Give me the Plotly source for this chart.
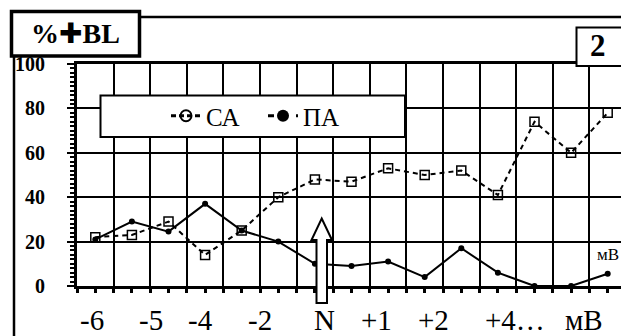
import plotly.graph_objects as go

# ---- data ----
positions = list(range(15))
ca_values = [22, 23, 29, 14, 25, 40, 48, 47, 53, 50, 52, 41, 74, 60, 78]
pa_values = [21, 29, 24.5, 37, 25, 20, 10, 9, 11, 4, 17, 6, 0, 0, 5.5]
x_tick_labels = ["-6", "-5", "-4", "-2", "N", "+1", "+2", "+4…", "мВ"]
x_tick_pos = [-0.08, 1.51, 2.88, 4.49, 6.25, 7.67, 9.25, 11.47, 13.35]
cell_edges = [i - 0.5 for i in range(16)]
y_tick_vals = [0, 20, 40, 60, 80, 100]
series_names = ["СА", "ПА"]

W, H = 621, 336
ML, MR, MT, MB = 77, 0, 64, 50
PW, PH = W - ML - MR, H - MT - MB
CELL = 36.6


def px(x):
    return (x - ML) / PW


def py(y):
    return (H - MB - y) / PH


SERIF = "Liberation Serif"

fig = go.Figure()

fig.add_trace(go.Scatter(
    x=positions, y=ca_values, mode="lines+markers", showlegend=False,
    line=dict(color="black", width=2, dash="5px,4px"),
    marker=dict(symbol="square-open", size=9, color="black",
                line=dict(width=1.5, color="black")),
))
fig.add_trace(go.Scatter(
    x=positions, y=pa_values, mode="lines+markers", showlegend=False,
    line=dict(color="black", width=2),
    marker=dict(symbol="circle", size=6, color="black"),
))
# legend entries
fig.add_trace(go.Scatter(
    x=[None], y=[None], mode="lines+markers", name=series_names[0],
    line=dict(color="black", width=3, dash="5px,3px"),
    marker=dict(symbol="circle-open", size=11, color="black",
                line=dict(width=2, color="black")),
))
fig.add_trace(go.Scatter(
    x=[None], y=[None], mode="lines+markers", name=series_names[1],
    line=dict(color="black", width=3, dash="6px,8px"),
    marker=dict(symbol="circle", size=12, color="black"),
))

shapes = [
    # outer frame
    dict(type="rect", xref="paper", yref="paper", x0=px(14), y0=py(17),
         x1=px(800), y1=py(500), line=dict(color="black", width=2.5),
         fillcolor="rgba(0,0,0,0)", layer="above"),
    # %+BL box
    dict(type="rect", xref="paper", yref="paper", x0=px(11.5), y0=py(11.5),
         x1=px(139.5), y1=py(56), line=dict(color="black", width=3.5),
         fillcolor="white", layer="above"),
    # "2" box
    dict(type="rect", xref="paper", yref="paper", x0=px(576.5), y0=py(27.5),
         x1=px(640), y1=py(66), line=dict(color="black", width=2),
         fillcolor="white", layer="above"),
    # legend box
    dict(type="rect", xref="paper", yref="paper", x0=px(100.5), y0=py(95.5),
         x1=px(405), y1=py(137), line=dict(color="black", width=2),
         fillcolor="white", layer="above"),
]

# arrow (white with black outline)
ax_pts = [(321.7, 218.5), (332, 240), (327, 240), (327, 303), (316.5, 303),
          (316.5, 240), (311.5, 240)]
path = "M " + " L ".join(f"{px(a):.5f},{py(b):.5f}" for a, b in ax_pts) + " Z"
shapes.append(dict(type="path", xref="paper", yref="paper", path=path,
                   line=dict(color="black", width=2), fillcolor="white",
                   layer="above"))

annotations = []
for lab, pos in zip(x_tick_labels, x_tick_pos):
    annotations.append(dict(x=pos, y=py(320), xref="x", yref="paper",
                            text=lab, showarrow=False, xanchor="center",
                            yanchor="middle",
                            font=dict(family=SERIF, size=29, color="black")))
annotations.append(dict(x=px(75), y=py(33), xref="paper", yref="paper",
                        text="<b>%</b><span style='font-family:DejaVu Sans'>✚</span><b>BL</b>",
                        showarrow=False, xanchor="center", yanchor="middle",
                        font=dict(family=SERIF, size=28, color="black")))
annotations.append(dict(x=px(598), y=py(46), xref="paper", yref="paper",
                        text="<b>2</b>", showarrow=False, xanchor="center",
                        yanchor="middle",
                        font=dict(family=SERIF, size=31, color="black")))
annotations.append(dict(x=positions[-1], y=pa_values[-1], xref="x", yref="y",
                        text="мВ", showarrow=False, xanchor="center",
                        yanchor="bottom", yshift=8,
                        font=dict(family=SERIF, size=17, color="black")))

fig.update_layout(
    width=W, height=H,
    margin=dict(l=ML, r=MR, t=MT, b=MB, pad=0),
    paper_bgcolor="white", plot_bgcolor="white",
    shapes=shapes, annotations=annotations,
    showlegend=True,
    legend=dict(orientation="h", x=px(166), y=py(116), xanchor="left",
                yanchor="middle", bgcolor="rgba(0,0,0,0)", borderwidth=0,
                entrywidth=52, entrywidthmode="pixels",
                font=dict(family=SERIF, size=25, color="black")),
    xaxis=dict(range=[-0.5, -0.5 + PW / CELL], tickmode="array",
               tickvals=cell_edges, showticklabels=False,
               showgrid=True, gridcolor="black", gridwidth=2,
               ticks="outside", ticklen=4, tickwidth=3, tickcolor="black",
               minor=dict(tickmode="array", tickvals=positions,
                          ticks="outside", ticklen=4, tickwidth=3,
                          tickcolor="black", showgrid=False),
               showline=True, linecolor="black", linewidth=3, mirror=True,
               zeroline=False, fixedrange=True),
    yaxis=dict(range=[0, 100], tickmode="array", tickvals=y_tick_vals,
               showgrid=True, gridcolor="black", gridwidth=2,
               ticks="outside", ticklen=7, tickwidth=2, tickcolor="black",
               minor=dict(dtick=2, tick0=0, ticks="outside", ticklen=4,
                          tickwidth=1.5, tickcolor="black", showgrid=False),
               showline=True, linecolor="black", linewidth=3,
               zeroline=False, ticklabelstandoff=18,
               tickfont=dict(family=SERIF, size=20, color="black",
                             weight="bold"),
               fixedrange=True),
)

fig.write_html("out.html")
